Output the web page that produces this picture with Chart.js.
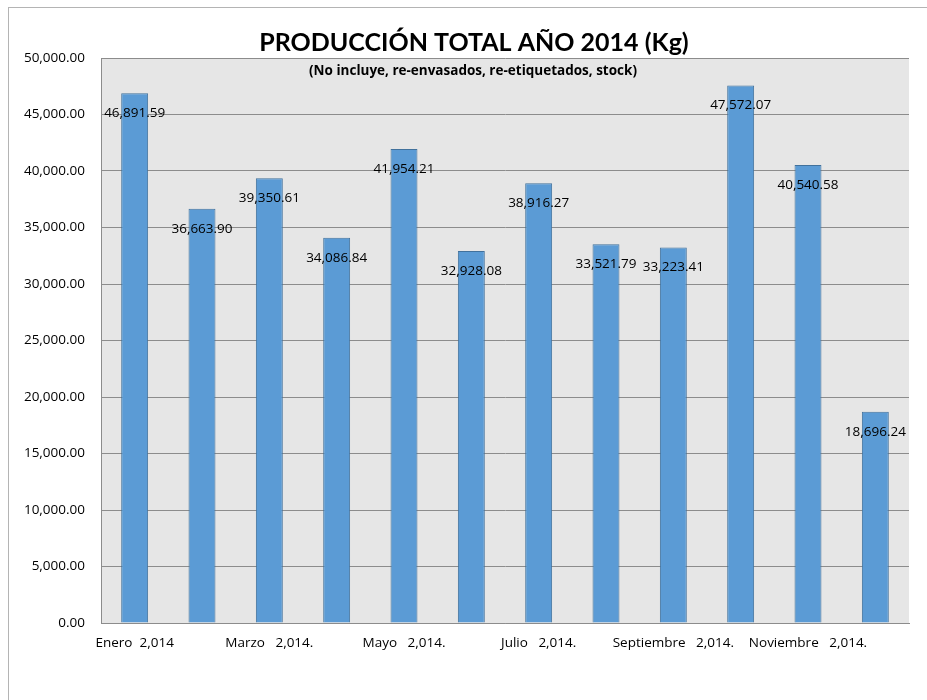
<!DOCTYPE html>
<html>
<head>
<meta charset="utf-8">
<script src="https://cdn.jsdelivr.net/npm/chart.js@4"></script>
<style>
  body { margin: 0; background: #fff; }
  #marco { position: absolute; left: 8px; top: 7px; width: 930px; height: 700px; border-left: 1px solid #b4b4b4; border-top: 1px solid #b4b4b4; }
  #wrap { position: absolute; left: 1px; top: 1px; width: 918px; height: 692px; }
</style>
</head>
<body>
<div id="marco"><div id="wrap"><canvas id="myChart"></canvas></div></div>
<script>
// Datos
const meses = ["Enero  2,014", "Febrero  2,014.", "Marzo   2,014.", "Abril   2,014.", "Mayo   2,014.", "Junio   2,014.",
  "Julio   2,014.", "Agosto   2,014.", "Septiembre   2,014.", "Octubre   2,014.", "Noviembre   2,014.", "Diciembre   2,014."];
const produccion = [46891.59, 36663.90, 39350.61, 34086.84, 41954.21, 32928.08,
  38916.27, 33521.79, 33223.41, 47572.07, 40540.58, 18696.24];
const titulo = "PRODUCCIÓN TOTAL AÑO 2014 (Kg)";
const subtitulo = "(No incluye, re-envasados, re-etiquetados, stock)";

const fuente = "'Open Sans', sans-serif";
const fuenteTitulo = "Lato, sans-serif";

function formato(v) {
  return v.toLocaleString("en-US", { minimumFractionDigits: 2, maximumFractionDigits: 2 });
}

// Fondo gris del area de trazado, titulo, subtitulo y etiquetas de datos
const extras = {
  id: "extras",
  beforeDraw(chart) {
    const a = chart.chartArea;
    const ctx = chart.ctx;
    ctx.save();
    ctx.fillStyle = "#e6e6e6";
    ctx.fillRect(a.left, a.top, a.right - a.left, a.bottom - a.top);
    ctx.restore();
  },
  afterDatasetsDraw(chart) {
    const ctx = chart.ctx;
    const a = chart.chartArea;
    const cx = chart.width / 2 + 5;
    ctx.save();
    ctx.fillStyle = "#000";
    ctx.textAlign = "center";
    ctx.textBaseline = "middle";
    ctx.font = "bold 25px " + fuenteTitulo;
    ctx.fillText(titulo, cx, 34);
    ctx.font = "bold 13.5px " + fuente;
    ctx.fillText(subtitulo, cx - 1, a.top + 13);
    ctx.font = "13.5px " + fuente;
    chart.getDatasetMeta(0).data.forEach((bar, i) => {
      ctx.fillText(formato(produccion[i]), bar.x, bar.y + 20);
    });
    ctx.restore();
  }
};

const ctx = document.getElementById("myChart").getContext("2d");
const myChart = new Chart(ctx, {
  type: "bar",
  data: {
    labels: meses,
    datasets: [{
      data: produccion,
      backgroundColor: "#5b9bd5",
      borderColor: "#41719c",
      borderWidth: 1,
      categoryPercentage: 1,
      barPercentage: 0.4,
    }],
  },
  options: {
    responsive: true,
    maintainAspectRatio: false,
    animation: false,
    layout: { padding: { left: 9, right: 19, top: 49, bottom: 0 } },
    scales: {
      x: {
        grid: { display: false, drawTicks: false },
        border: { display: true, color: "#8c8c8c", width: 1 },
        ticks: {
          autoSkip: false,
          maxRotation: 0,
          padding: 12,
          color: "#000",
          font: { family: fuente, size: 13.5 },
          callback: function (v, i) { return i % 2 === 0 ? meses[i] : ""; },
        },
        afterFit: (s) => { s.height = 78; },
      },
      y: {
        min: 0,
        max: 50000,
        ticks: {
          stepSize: 5000,
          padding: 16,
          color: "#000",
          font: { family: fuente, size: 13.5 },
          callback: (v) => formato(v),
        },
        grid: { color: "#8c8c8c", drawTicks: false },
        border: { display: true, color: "#8c8c8c", width: 1 },
        afterFit: (s) => { s.width = 82; },
      },
    },
    plugins: {
      legend: { display: false },
      tooltip: { enabled: false },
      title: { display: false },
    },
  },
  plugins: [extras],
});
</script>
</body>
</html>
